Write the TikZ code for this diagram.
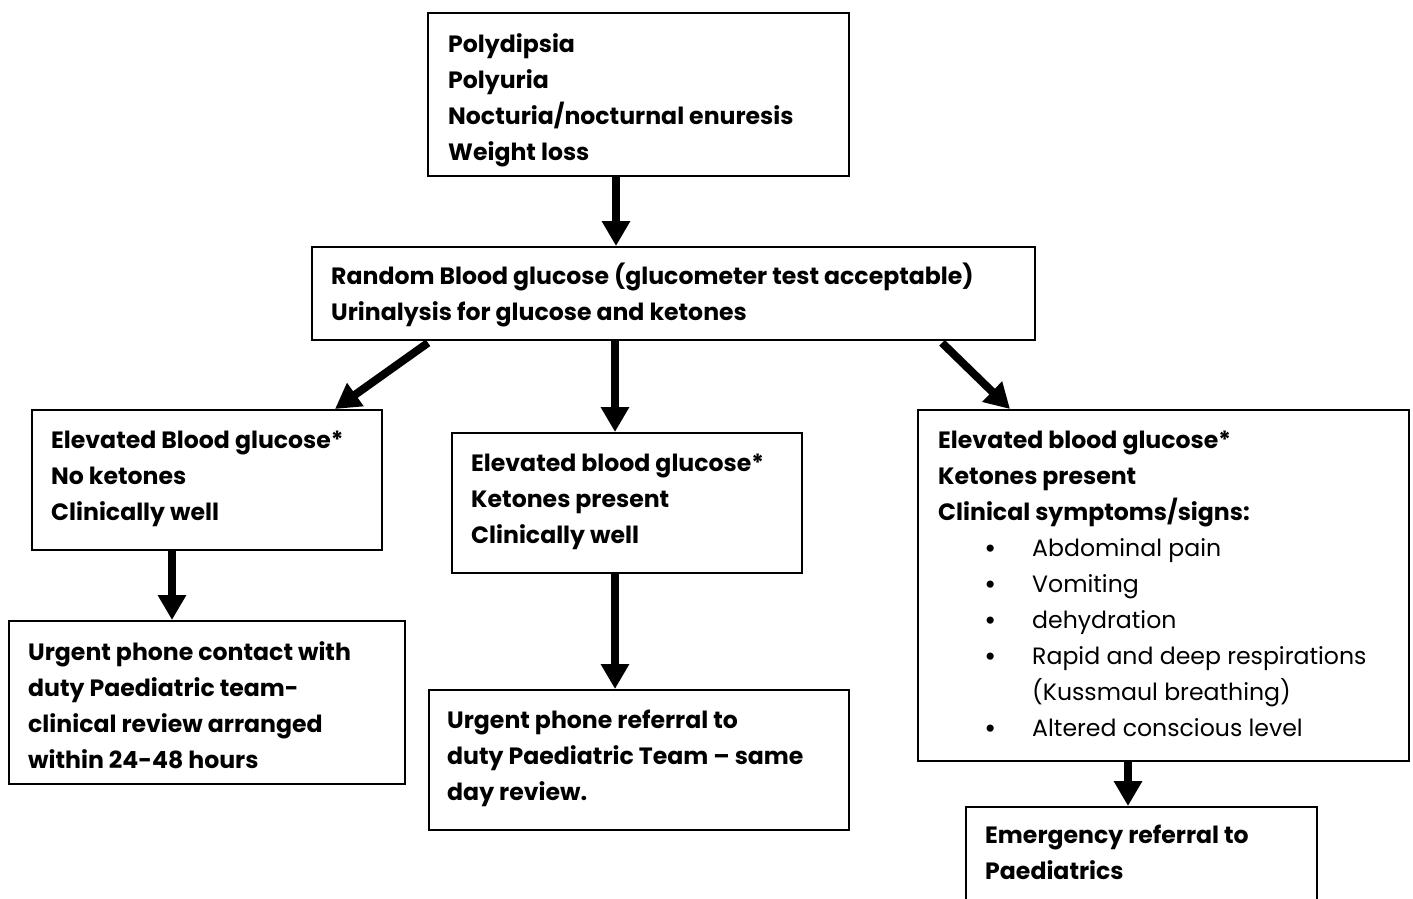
\documentclass[tikz,border=0pt]{standalone}
\usepackage{fontspec}
\setmainfont{Poppins}
\usetikzlibrary{arrows.meta,calc}
\newcommand\fl{\rule{0pt}{28pt}}
\newcommand\bul[1]{\hspace*{52pt}\makebox[0pt]{\textbullet}\hspace*{42pt}{\mdseries #1}}
\begin{document}
\begin{tikzpicture}[x=1pt,y=-1pt,
 box/.style={draw, line width=1.8pt, inner sep=0pt, anchor=north west},
 txt/.style={anchor=north west, inner sep=0pt, align=left, font=\fontsize{23.6}{36}\selectfont\bfseries},
 flow/.style={line width=8pt, -{Triangle[length=25pt,width=27pt]}}]
\useasboundingbox (0,0) rectangle (1413,898);
\clip (0,0) rectangle (1413,898);
% boxes
\node[box, minimum width=421pt, minimum height=163pt] (b1) at (427,12) {};
\node[box, minimum width=723pt, minimum height=93pt] (b2) at (311,246) {};
\node[box, minimum width=350pt, minimum height=140pt] (l1) at (31,409) {};
\node[box, minimum width=350pt, minimum height=140pt] (m1) at (451,432) {};
\node[box, minimum width=491pt, minimum height=351pt] (r1) at (917,409) {};
\node[box, minimum width=396pt, minimum height=163pt] (l2) at (8,620) {};
\node[box, minimum width=420pt, minimum height=140pt] (m2) at (428,689) {};
\node[box, minimum width=351pt, minimum height=130pt] (r2) at (965,806) {};
% texts
\node[txt] (t1) at (448,24) {\fl Polydipsia\\Polyuria\\Nocturia/nocturnal enuresis\\Weight loss};
\node[txt] (t2) at (331,256) {\fl Random Blood glucose (glucometer test acceptable)\\Urinalysis for glucose and ketones};
\node[txt] (tl1) at (51,420) {\fl Elevated Blood glucose*\\No ketones\\Clinically well};
\node[txt] (tm1) at (471,443) {\fl Elevated blood glucose*\\Ketones present\\Clinically well};
\node[txt] (tr1) at (938,420) {\fl Elevated blood glucose*\\Ketones present\\Clinical symptoms/signs:\\
\bul{Abdominal pain}\\\bul{Vomiting}\\\bul{dehydration}\\\bul{Rapid and deep respirations}\\
\hspace*{94pt}{\mdseries (Kussmaul breathing)}\\\bul{Altered conscious level}};
\node[txt] (tl2) at (28,632) {\fl Urgent phone contact with\\duty Paediatric team-\\clinical review arranged\\within 24-48 hours};
\node[txt] (tm2) at (447,700) {\fl Urgent phone referral to\\duty Paediatric Team -- same\\day review.};
\node[txt] (tr2) at (985,815) {\fl Emergency referral to\\Paediatrics};
% connectors
\draw[flow] ($(b1.south west)+(189,0)$) -- ($(b2.north west)+(305,0)$);
\draw[flow] ($(b2.south west)+(117,2)$) -- ($(l1.north west)+(304,0)$);
\draw[flow] ($(b2.south west)+(304,0)$) -- ($(m1.north west)+(164,0)$);
\draw[flow] ($(b2.south west)+(631,2)$) -- ($(r1.north west)+(93,0)$);
\draw[flow] ($(l1.south west)+(141,0)$) -- ($(l2.north west)+(164,0)$);
\draw[flow] ($(m1.south west)+(164,0)$) -- ($(m2.north west)+(187,0)$);
\draw[flow] ($(r1.south west)+(211,0)$) -- ($(r2.north west)+(163,0)$);
\end{tikzpicture}
\end{document}
